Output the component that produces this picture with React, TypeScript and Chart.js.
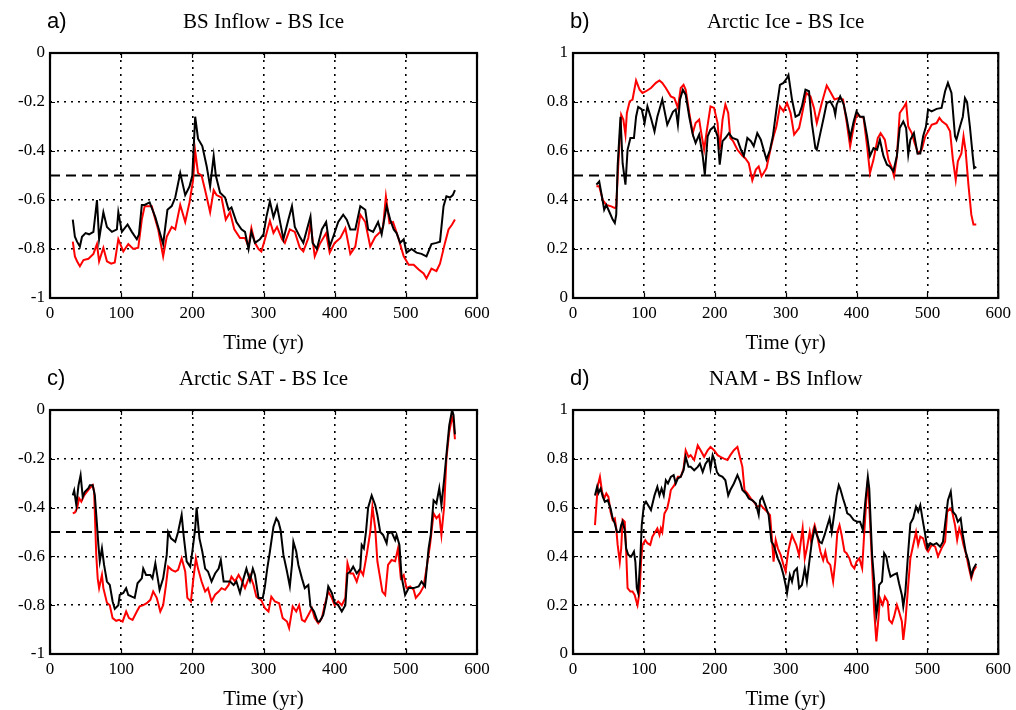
import React, { useEffect, useRef } from 'react';
import { Chart, registerables } from 'chart.js';

Chart.register(...registerables);

type Pt = [number, number];

// ---- labels ----
const panelLetters = ['a)', 'b)', 'c)', 'd)'];
const panelTitles = ['BS Inflow - BS Ice', 'Arctic Ice - BS Ice', 'Arctic SAT - BS Ice', 'NAM - BS Inflow'];
const xAxisLabel = 'Time (yr)';
const xTickValues = [0, 100, 200, 300, 400, 500, 600];
const negTickValues = [0, -0.2, -0.4, -0.6, -0.8, -1];
const posTickValues = [0, 0.2, 0.4, 0.6, 0.8, 1];
const thresholds = [-0.5, 0.5, -0.5, 0.5];

// ---- a) BS Inflow - BS Ice : [year, correlation] ----
const inflowIceBlack: Pt[] = [
  [32, -0.68], [35, -0.75], [38, -0.77], [42, -0.79], [45, -0.75], [50, -0.735], [55, -0.74], [61, -0.73],
  [66, -0.6], [69, -0.76], [75, -0.65], [80, -0.71], [87, -0.73], [94, -0.72], [96, -0.65], [101, -0.73],
  [109, -0.7], [115, -0.73], [122, -0.76], [125, -0.74], [129, -0.62], [133, -0.62], [140, -0.61], [148, -0.67],
  [151, -0.7], [159, -0.78], [165, -0.64], [171, -0.625], [176, -0.59], [183, -0.49], [190, -0.58], [196, -0.545],
  [200, -0.5], [204, -0.26], [208, -0.35], [214, -0.38], [220, -0.46], [225, -0.545], [230, -0.42], [233, -0.5],
  [239, -0.57], [246, -0.59], [251, -0.64], [255, -0.63], [262, -0.69], [269, -0.72], [274, -0.73], [279, -0.8],
  [283, -0.73], [288, -0.775], [295, -0.76], [300, -0.74], [304, -0.67], [309, -0.605], [314, -0.67], [319, -0.625],
  [323, -0.685], [328, -0.76], [335, -0.68], [340, -0.625], [344, -0.71], [351, -0.75], [356, -0.775], [361, -0.72],
  [366, -0.667], [369, -0.775], [375, -0.8], [382, -0.72], [388, -0.69], [393, -0.79], [398, -0.75], [405, -0.69],
  [412, -0.66], [417, -0.68], [422, -0.72], [429, -0.72], [436, -0.625], [443, -0.64], [447, -0.72], [454, -0.73],
  [461, -0.69], [466, -0.74], [473, -0.625], [478, -0.68], [483, -0.72], [487, -0.735], [492, -0.775], [497, -0.76],
  [501, -0.815], [508, -0.8], [515, -0.815], [522, -0.82], [529, -0.83], [536, -0.78], [543, -0.775], [548, -0.77],
  [553, -0.625], [557, -0.585], [562, -0.59], [566, -0.58], [569, -0.56],
];
const inflowIceRed: Pt[] = [
  [32, -0.77], [35, -0.83], [38, -0.85], [42, -0.87], [47, -0.845], [54, -0.84], [61, -0.82], [66, -0.78],
  [69, -0.85], [75, -0.795], [80, -0.85], [86, -0.86], [91, -0.855], [96, -0.76], [103, -0.81], [110, -0.78],
  [117, -0.8], [124, -0.795], [129, -0.68], [133, -0.625], [143, -0.625], [148, -0.68], [152, -0.72], [159, -0.83],
  [164, -0.75], [171, -0.71], [176, -0.72], [183, -0.62], [190, -0.69], [196, -0.61], [201, -0.52], [204, -0.4],
  [208, -0.49], [213, -0.5], [218, -0.56], [225, -0.65], [230, -0.56], [234, -0.58], [241, -0.59], [247, -0.68],
  [253, -0.65], [259, -0.72], [267, -0.755], [274, -0.755], [279, -0.79], [283, -0.715], [288, -0.775], [293, -0.8],
  [297, -0.81], [302, -0.76], [309, -0.685], [314, -0.735], [319, -0.71], [326, -0.76], [330, -0.775], [337, -0.72],
  [344, -0.73], [351, -0.795], [356, -0.81], [363, -0.755], [366, -0.695], [372, -0.83], [379, -0.78], [388, -0.735],
  [393, -0.815], [400, -0.775], [408, -0.755], [415, -0.715], [422, -0.82], [429, -0.79], [436, -0.66], [443, -0.69],
  [450, -0.79], [457, -0.75], [464, -0.73], [468, -0.71], [472, -0.585], [477, -0.695], [482, -0.69], [489, -0.75],
  [497, -0.83], [504, -0.864], [511, -0.864], [518, -0.884], [525, -0.9], [529, -0.92], [536, -0.88], [543, -0.89],
  [548, -0.86], [555, -0.775], [560, -0.72], [565, -0.7], [569, -0.68],
];

// ---- b) Arctic Ice - BS Ice ----
const arcticIceBlack: Pt[] = [
  [33, 0.463], [37, 0.476], [42, 0.395], [44, 0.36], [47, 0.38], [52, 0.347], [56, 0.32], [59, 0.306],
  [61, 0.34], [63, 0.54], [67, 0.74], [70, 0.55], [74, 0.463], [77, 0.605], [81, 0.653], [86, 0.653],
  [89, 0.74], [92, 0.78], [97, 0.77], [101, 0.714], [105, 0.782], [110, 0.735], [115, 0.68], [119, 0.74],
  [126, 0.81], [133, 0.707], [141, 0.76], [145, 0.77], [148, 0.707], [151, 0.81], [155, 0.85], [159, 0.83],
  [164, 0.74], [169, 0.667], [173, 0.633], [178, 0.667], [183, 0.58], [186, 0.503], [190, 0.66], [194, 0.687],
  [199, 0.7], [204, 0.66], [207, 0.544], [211, 0.64], [215, 0.653], [220, 0.673], [225, 0.653], [232, 0.646],
  [237, 0.605], [241, 0.58], [246, 0.653], [251, 0.64], [255, 0.62], [260, 0.673], [265, 0.646], [269, 0.605],
  [273, 0.565], [278, 0.605], [282, 0.66], [287, 0.77], [292, 0.87], [297, 0.878], [302, 0.898], [304, 0.91],
  [309, 0.81], [314, 0.74], [319, 0.748], [323, 0.782], [328, 0.85], [333, 0.844], [337, 0.714], [342, 0.612],
  [344, 0.605], [349, 0.673], [354, 0.74], [358, 0.796], [363, 0.803], [368, 0.776], [370, 0.748], [372, 0.789],
  [377, 0.823], [382, 0.789], [386, 0.735], [391, 0.653], [396, 0.72], [400, 0.762], [405, 0.74], [410, 0.74],
  [415, 0.66], [419, 0.58], [424, 0.612], [429, 0.605], [433, 0.646], [438, 0.58], [443, 0.544], [447, 0.537],
  [452, 0.517], [457, 0.58], [461, 0.694], [466, 0.72], [470, 0.694], [473, 0.585], [476, 0.646], [481, 0.673],
  [486, 0.59], [490, 0.59], [494, 0.66], [498, 0.7], [501, 0.77], [506, 0.762], [513, 0.772], [520, 0.776],
  [525, 0.844], [529, 0.878], [534, 0.837], [539, 0.66], [541, 0.646], [546, 0.7], [550, 0.74], [553, 0.816],
  [556, 0.8], [560, 0.7], [564, 0.58], [566, 0.53], [569, 0.535],
];
const arcticIceRed: Pt[] = [
  [33, 0.456], [37, 0.456], [42, 0.4], [47, 0.38], [54, 0.374], [59, 0.367], [61, 0.374], [64, 0.55],
  [68, 0.748], [71, 0.728], [74, 0.667], [76, 0.755], [80, 0.803], [84, 0.81], [89, 0.888], [94, 0.85],
  [98, 0.837], [103, 0.844], [110, 0.857], [117, 0.878], [122, 0.888], [126, 0.878], [131, 0.857], [138, 0.823],
  [143, 0.816], [148, 0.776], [152, 0.857], [156, 0.87], [159, 0.85], [164, 0.755], [169, 0.673], [173, 0.714],
  [178, 0.728], [181, 0.673], [185, 0.605], [189, 0.687], [194, 0.782], [199, 0.776], [204, 0.714], [207, 0.605],
  [211, 0.728], [215, 0.79], [219, 0.755], [222, 0.653], [226, 0.64], [232, 0.605], [239, 0.58], [243, 0.571],
  [248, 0.55], [253, 0.48], [258, 0.524], [262, 0.537], [266, 0.497], [269, 0.51], [273, 0.53], [279, 0.612],
  [283, 0.66], [287, 0.7], [292, 0.782], [297, 0.762], [302, 0.796], [307, 0.755], [312, 0.667], [319, 0.694],
  [323, 0.748], [329, 0.837], [335, 0.823], [340, 0.776], [344, 0.714], [351, 0.796], [358, 0.867], [364, 0.837],
  [369, 0.81], [375, 0.816], [381, 0.81], [386, 0.72], [391, 0.619], [396, 0.7], [400, 0.748], [405, 0.74],
  [410, 0.735], [415, 0.619], [419, 0.51], [424, 0.565], [430, 0.653], [434, 0.673], [440, 0.646], [445, 0.565],
  [450, 0.53], [453, 0.497], [457, 0.578], [461, 0.755], [466, 0.776], [470, 0.796], [473, 0.7], [478, 0.673],
  [482, 0.633], [487, 0.59], [492, 0.605], [497, 0.66], [501, 0.68], [506, 0.707], [513, 0.714], [517, 0.735],
  [521, 0.72], [527, 0.707], [532, 0.68], [536, 0.565], [540, 0.482], [543, 0.558], [548, 0.59], [551, 0.66],
  [554, 0.6], [558, 0.46], [562, 0.34], [565, 0.3], [569, 0.3],
];

// ---- c) Arctic SAT - BS Ice ----
const arcticSatBlack: Pt[] = [
  [32, -0.35], [34, -0.33], [37, -0.39], [40, -0.31], [43, -0.267], [46, -0.356], [49, -0.335], [54, -0.32],
  [56, -0.308], [60, -0.308], [63, -0.35], [66, -0.47], [68, -0.553], [70, -0.62], [73, -0.567], [76, -0.635],
  [80, -0.703], [84, -0.717], [88, -0.785], [91, -0.815], [96, -0.8], [98, -0.758], [103, -0.75], [107, -0.73],
  [110, -0.758], [115, -0.765], [119, -0.77], [123, -0.71], [129, -0.69], [131, -0.65], [135, -0.676], [141, -0.676],
  [144, -0.69], [148, -0.628], [151, -0.683], [154, -0.737], [159, -0.69], [164, -0.594], [166, -0.5], [170, -0.526],
  [176, -0.54], [180, -0.5], [185, -0.43], [188, -0.52], [192, -0.62], [197, -0.642], [200, -0.58], [204, -0.485],
  [206, -0.4], [210, -0.526], [214, -0.58], [218, -0.65], [222, -0.662], [227, -0.703], [232, -0.67], [237, -0.65],
  [240, -0.615], [244, -0.703], [248, -0.703], [253, -0.703], [258, -0.717], [262, -0.703], [267, -0.75], [272, -0.69],
  [276, -0.65], [281, -0.7], [285, -0.65], [288, -0.676], [293, -0.77], [299, -0.77], [302, -0.723], [305, -0.655],
  [309, -0.58], [314, -0.478], [318, -0.444], [321, -0.458], [324, -0.492], [328, -0.594], [333, -0.662], [337, -0.723],
  [340, -0.635], [342, -0.54], [346, -0.58], [349, -0.635], [354, -0.69], [358, -0.73], [363, -0.717], [366, -0.805],
  [371, -0.826], [376, -0.867], [379, -0.867], [384, -0.84], [388, -0.785], [391, -0.723], [396, -0.75], [400, -0.79],
  [405, -0.8], [410, -0.826], [415, -0.8], [418, -0.67], [422, -0.662], [426, -0.642], [431, -0.67], [436, -0.65],
  [438, -0.553], [441, -0.567], [444, -0.5], [447, -0.4], [452, -0.35], [457, -0.39], [460, -0.43], [464, -0.5],
  [468, -0.512], [473, -0.546], [475, -0.506], [480, -0.5], [485, -0.533], [487, -0.512], [491, -0.553], [494, -0.683],
  [499, -0.758], [504, -0.73], [511, -0.73], [518, -0.723], [522, -0.703], [527, -0.723], [532, -0.567], [535, -0.512],
  [539, -0.37], [543, -0.383], [547, -0.32], [550, -0.39], [554, -0.28], [557, -0.185], [561, -0.063], [565, 0],
  [567, -0.02], [569, -0.1],
];
const arcticSatRed: Pt[] = [
  [32, -0.424], [35, -0.42], [38, -0.403], [41, -0.362], [44, -0.376], [48, -0.35], [52, -0.335], [56, -0.32],
  [60, -0.308], [62, -0.335], [65, -0.594], [67, -0.69], [69, -0.73], [73, -0.676], [75, -0.73], [80, -0.79],
  [84, -0.8], [88, -0.853], [93, -0.864], [97, -0.86], [102, -0.867], [107, -0.826], [111, -0.853], [116, -0.86],
  [122, -0.826], [126, -0.805], [131, -0.8], [136, -0.792], [141, -0.778], [145, -0.744], [150, -0.77], [155, -0.826],
  [159, -0.8], [163, -0.717], [166, -0.642], [171, -0.655], [176, -0.662], [180, -0.655], [185, -0.608], [190, -0.662],
  [193, -0.77], [198, -0.785], [201, -0.703], [205, -0.608], [208, -0.65], [213, -0.703], [218, -0.744], [222, -0.73],
  [227, -0.785], [232, -0.757], [237, -0.744], [241, -0.73], [246, -0.737], [251, -0.717], [255, -0.683], [260, -0.703],
  [265, -0.676], [269, -0.697], [274, -0.73], [281, -0.676], [286, -0.717], [290, -0.765], [297, -0.78], [302, -0.812],
  [307, -0.826], [311, -0.765], [316, -0.785], [322, -0.792], [327, -0.853], [333, -0.867], [336, -0.894], [341, -0.805],
  [346, -0.826], [350, -0.8], [354, -0.86], [358, -0.867], [363, -0.84], [368, -0.812], [372, -0.853], [377, -0.874],
  [382, -0.853], [386, -0.8], [391, -0.744], [396, -0.77], [400, -0.8], [405, -0.785], [410, -0.8], [415, -0.77],
  [418, -0.628], [422, -0.67], [426, -0.67], [431, -0.703], [436, -0.655], [440, -0.676], [445, -0.594], [450, -0.5],
  [453, -0.397], [457, -0.485], [460, -0.62], [464, -0.69], [467, -0.744], [471, -0.758], [475, -0.635], [480, -0.615],
  [485, -0.62], [489, -0.567], [493, -0.69], [497, -0.676], [501, -0.73], [506, -0.723], [511, -0.737], [514, -0.77],
  [520, -0.75], [525, -0.723], [529, -0.65], [534, -0.553], [539, -0.424], [543, -0.444], [547, -0.43], [550, -0.512],
  [554, -0.39], [557, -0.2], [561, -0.09], [565, -0.03], [567, -0.05], [569, -0.12],
];

// ---- d) NAM - BS Inflow ----
const namInflowBlack: Pt[] = [
  [31, 0.65], [34, 0.685], [36, 0.66], [39, 0.678], [42, 0.645], [45, 0.624], [49, 0.63], [53, 0.597],
  [56, 0.556], [59, 0.535], [62, 0.5], [66, 0.5], [68, 0.528], [70, 0.542], [73, 0.508], [75, 0.433],
  [78, 0.406], [82, 0.399], [86, 0.42], [88, 0.378], [90, 0.27], [92, 0.25], [95, 0.392], [97, 0.528],
  [100, 0.61], [103, 0.624], [106, 0.61], [110, 0.59], [115, 0.65], [119, 0.685], [122, 0.65], [125, 0.678],
  [128, 0.65], [131, 0.712], [134, 0.699], [138, 0.726], [142, 0.733], [145, 0.699], [148, 0.72], [152, 0.726],
  [156, 0.753], [159, 0.808], [163, 0.767], [166, 0.767], [171, 0.753], [176, 0.767], [179, 0.78], [183, 0.746],
  [187, 0.78], [192, 0.8], [194, 0.76], [197, 0.815], [199, 0.8], [203, 0.746], [206, 0.733], [211, 0.726],
  [215, 0.712], [219, 0.65], [222, 0.672], [227, 0.699], [232, 0.733], [236, 0.705], [239, 0.672], [244, 0.658],
  [248, 0.637], [253, 0.63], [258, 0.617], [262, 0.57], [264, 0.63], [267, 0.644], [272, 0.603], [276, 0.57],
  [280, 0.46], [283, 0.447], [286, 0.42], [289, 0.392], [293, 0.365], [297, 0.324], [300, 0.283], [302, 0.249],
  [306, 0.324], [309, 0.297], [312, 0.338], [316, 0.351], [319, 0.27], [323, 0.283], [327, 0.351], [330, 0.297],
  [334, 0.392], [337, 0.46], [341, 0.515], [344, 0.488], [348, 0.46], [351, 0.454], [355, 0.488], [359, 0.528],
  [362, 0.556], [365, 0.5], [369, 0.583], [372, 0.65], [375, 0.692], [377, 0.678], [381, 0.637], [384, 0.61],
  [387, 0.576], [391, 0.569], [396, 0.549], [401, 0.542], [405, 0.542], [409, 0.508], [412, 0.61], [416, 0.726],
  [418, 0.678], [422, 0.406], [425, 0.297], [428, 0.16], [430, 0.2], [432, 0.283], [436, 0.297], [439, 0.413],
  [442, 0.399], [445, 0.351], [448, 0.317], [452, 0.324], [457, 0.331], [460, 0.29], [464, 0.242], [466, 0.195],
  [469, 0.256], [473, 0.42], [476, 0.535], [480, 0.556], [484, 0.603], [487, 0.583], [490, 0.61], [493, 0.556],
  [497, 0.488], [500, 0.433], [504, 0.454], [508, 0.447], [513, 0.454], [518, 0.44], [522, 0.46], [526, 0.556],
  [529, 0.63], [533, 0.665], [536, 0.583], [540, 0.569], [543, 0.542], [547, 0.556], [550, 0.488], [554, 0.42],
  [558, 0.38], [562, 0.32], [565, 0.35], [569, 0.37],
];
const namInflowRed: Pt[] = [
  [31, 0.528], [33, 0.61], [35, 0.69], [38, 0.726], [41, 0.665], [44, 0.637], [47, 0.658], [50, 0.644],
  [53, 0.583], [56, 0.549], [59, 0.556], [61, 0.515], [63, 0.447], [66, 0.378], [68, 0.433], [70, 0.55],
  [73, 0.542], [75, 0.42], [77, 0.27], [81, 0.256], [84, 0.256], [87, 0.242], [89, 0.22], [91, 0.2],
  [94, 0.256], [96, 0.378], [98, 0.447], [102, 0.467], [105, 0.454], [109, 0.447], [112, 0.481], [116, 0.5],
  [119, 0.515], [122, 0.488], [124, 0.515], [126, 0.5], [129, 0.576], [133, 0.597], [136, 0.637], [138, 0.672],
  [143, 0.692], [148, 0.726], [152, 0.726], [156, 0.76], [159, 0.835], [163, 0.808], [166, 0.815], [171, 0.795],
  [176, 0.855], [180, 0.835], [185, 0.808], [190, 0.835], [194, 0.849], [199, 0.835], [204, 0.815], [208, 0.808],
  [213, 0.801], [218, 0.795], [222, 0.815], [227, 0.835], [232, 0.849], [236, 0.801], [239, 0.767], [242, 0.672],
  [246, 0.658], [251, 0.637], [255, 0.624], [260, 0.603], [265, 0.61], [269, 0.597], [274, 0.583], [278, 0.569],
  [281, 0.46], [283, 0.378], [286, 0.467], [289, 0.433], [293, 0.406], [297, 0.365], [300, 0.338], [302, 0.385],
  [304, 0.426], [309, 0.488], [312, 0.467], [315, 0.447], [319, 0.406], [322, 0.474], [324, 0.515], [327, 0.392],
  [330, 0.433], [334, 0.5], [336, 0.46], [339, 0.508], [341, 0.528], [344, 0.494], [349, 0.42], [353, 0.385],
  [356, 0.42], [359, 0.378], [363, 0.365], [367, 0.297], [370, 0.378], [373, 0.5], [376, 0.528], [379, 0.488],
  [383, 0.42], [386, 0.413], [390, 0.392], [393, 0.365], [397, 0.351], [400, 0.378], [404, 0.392], [408, 0.351],
  [411, 0.5], [414, 0.637], [416, 0.712], [418, 0.61], [422, 0.365], [425, 0.174], [428, 0.052], [431, 0.147],
  [433, 0.229], [437, 0.201], [440, 0.235], [444, 0.215], [446, 0.14], [450, 0.126], [453, 0.153], [457, 0.201],
  [460, 0.174], [464, 0.133], [466, 0.058], [469, 0.133], [473, 0.283], [476, 0.392], [480, 0.447], [484, 0.5],
  [487, 0.447], [490, 0.481], [494, 0.474], [498, 0.433], [501, 0.42], [506, 0.447], [511, 0.44], [515, 0.4],
  [520, 0.433], [525, 0.46], [528, 0.583], [532, 0.597], [535, 0.583], [539, 0.528], [542, 0.467], [545, 0.515],
  [548, 0.488], [551, 0.447], [555, 0.406], [558, 0.36], [562, 0.31], [565, 0.34], [569, 0.36],
];

const blackSeries = [inflowIceBlack, arcticIceBlack, arcticSatBlack, namInflowBlack];
const redSeries = [inflowIceRed, arcticIceRed, arcticSatRed, namInflowRed];

const SERIF = '"Liberation Serif", "Times New Roman", serif';
const SANS = '"Liberation Sans", Arial, sans-serif';

// Frame, inward ticks, panel letter, title and x-axis caption.
const panelDecor = {
  id: 'panelDecor',
  afterDraw(chart: any, _args: any, opts: any) {
    const { ctx, chartArea: a } = chart;
    const xs = chart.scales.x;
    const ys = chart.scales.y;
    ctx.save();
    ctx.strokeStyle = '#000';
    ctx.lineWidth = 1.2;
    ctx.beginPath();
    for (const v of xTickValues) {
      const px = Math.round(xs.getPixelForValue(v)) + 0.5;
      ctx.moveTo(px, a.bottom); ctx.lineTo(px, a.bottom - 5);
      ctx.moveTo(px, a.top); ctx.lineTo(px, a.top + 5);
    }
    for (const v of opts.yTicks as number[]) {
      const py = Math.round(ys.getPixelForValue(v)) + 0.5;
      ctx.moveTo(a.left, py); ctx.lineTo(a.left + 5, py);
      ctx.moveTo(a.right, py); ctx.lineTo(a.right - 5, py);
    }
    ctx.stroke();
    ctx.lineWidth = 2.2;
    ctx.strokeRect(a.left, a.top, a.right - a.left, a.bottom - a.top);

    ctx.fillStyle = '#000';
    ctx.textBaseline = 'alphabetic';
    ctx.textAlign = 'left';
    ctx.font = `22px ${SANS}`;
    ctx.fillText(opts.letter, a.left - 3, a.top - 25);
    ctx.textAlign = 'center';
    ctx.font = `21px ${SERIF}`;
    ctx.fillText(opts.title, (a.left + a.right) / 2, a.top - 25);
    ctx.font = `21px ${SERIF}`;
    ctx.fillText(xAxisLabel, (a.left + a.right) / 2, a.bottom + 51);
    ctx.restore();
  },
};

type PanelProps = {
  index: number;
  left: number;
  top: number;
  width: number;
  height: number;
  plotLeft: number;
  plotTop: number;
  plotRight: number;
  plotBottom: number;
};

function Panel(p: PanelProps) {
  const ref = useRef<HTMLCanvasElement | null>(null);

  useEffect(() => {
    const canvas = ref.current;
    if (!canvas) return;
    const negative = thresholds[p.index] < 0;
    const yTicks = negative ? negTickValues : posTickValues;
    const toXY = (s: Pt[]) => s.map(([x, y]) => ({ x, y }));
    const gridStyle = { color: '#000', lineWidth: 1.6, drawTicks: false };
    const tickFont = { family: SERIF, size: 17 };

    const chart = new Chart(canvas, {
      type: 'line',
      data: {
        datasets: [
          {
            data: toXY(blackSeries[p.index]),
            borderColor: '#000000',
            borderWidth: 2,
            pointRadius: 0,
            tension: 0,
          },
          {
            data: toXY(redSeries[p.index]),
            borderColor: '#ff0000',
            borderWidth: 2,
            pointRadius: 0,
            tension: 0,
          },
          {
            data: [
              { x: 0, y: thresholds[p.index] },
              { x: 600, y: thresholds[p.index] },
            ],
            borderColor: '#000000',
            borderWidth: 1.8,
            borderDash: [10, 6],
            pointRadius: 0,
          },
        ],
      },
      options: {
        animation: false,
        responsive: false,
        events: [],
        layout: {
          padding: {
            left: 0,
            top: p.plotTop,
            right: p.width - p.plotRight,
            bottom: 0,
          },
        },
        plugins: {
          legend: { display: false },
          tooltip: { enabled: false },
          panelDecor: { letter: panelLetters[p.index], title: panelTitles[p.index], yTicks },
        } as any,
        scales: {
          x: {
            type: 'linear',
            min: 0,
            max: 600,
            ticks: {
              stepSize: 100,
              color: '#000',
              font: tickFont,
              padding: 5,
              maxRotation: 0,
              autoSkip: false,
            },
            grid: gridStyle,
            border: { display: false, dash: [2, 5] },
            afterFit: (s: any) => {
              s.height = p.height - p.plotBottom;
            },
          },
          y: {
            type: 'linear',
            min: negative ? -1 : 0,
            max: negative ? 0 : 1,
            ticks: {
              stepSize: 0.2,
              color: '#000',
              font: tickFont,
              padding: 5,
              callback: (v: any) => String(Math.round(Number(v) * 10) / 10),
            },
            grid: gridStyle,
            border: { display: false, dash: [2, 5] },
            afterFit: (s: any) => {
              s.width = p.plotLeft;
            },
          },
        },
      } as any,
      plugins: [panelDecor],
    });
    return () => chart.destroy();
  }, []);

  return (
    <canvas
      ref={ref}
      width={p.width}
      height={p.height}
      style={{ position: 'absolute', left: p.left, top: p.top, width: p.width, height: p.height }}
    />
  );
}

export default function App() {
  const W = 508;
  const H = 355;
  return (
    <div style={{ position: 'fixed', left: 0, top: 0, width: 1016, height: 710, background: '#fff', overflow: 'hidden' }}>
      <Panel index={0} left={0} top={0} width={W} height={H} plotLeft={50} plotTop={53} plotRight={477} plotBottom={298} />
      <Panel index={1} left={W} top={0} width={W} height={H} plotLeft={65} plotTop={53} plotRight={492} plotBottom={298} />
      <Panel index={2} left={0} top={H} width={W} height={H} plotLeft={50} plotTop={55} plotRight={477} plotBottom={299} />
      <Panel index={3} left={W} top={H} width={W} height={H} plotLeft={65} plotTop={55} plotRight={492} plotBottom={299} />
    </div>
  );
}
